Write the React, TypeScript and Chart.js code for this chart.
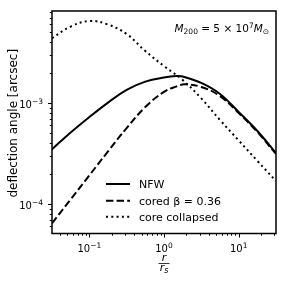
import React, { useEffect, useRef } from 'react';
import { Chart, registerables } from 'chart.js';
Chart.register(...registerables);

// ---- data ----
const rNFW = [0.0316, 0.0562, 0.1, 0.178, 0.316, 0.562, 1.0, 1.48, 1.78, 3.16, 5.62, 10, 17.8, 31.6];
const alphaNFW = [3.48e-4, 5.11e-4, 7.26e-4, 1.01e-3, 1.35e-3, 1.63e-3, 1.79e-3, 1.85e-3, 1.83e-3, 1.58e-3, 1.23e-3, 8.15e-4, 5.28e-4, 3.2e-4];

const rCored = [0.0316, 0.0562, 0.1, 0.178, 0.316, 0.562, 1.0, 1.48, 1.9, 3.16, 5.62, 10, 17.8, 31.6];
const alphaCored = [6.44e-5, 1.11e-4, 1.92e-4, 3.32e-4, 5.65e-4, 9.12e-4, 1.29e-3, 1.46e-3, 1.53e-3, 1.44e-3, 1.17e-3, 7.96e-4, 5.16e-4, 3.13e-4];

const rCollapsed = [0.0316, 0.0562, 0.1, 0.178, 0.316, 0.562, 1.0, 1.78, 3.16, 5.62, 10, 17.8, 31.6];
const alphaCollapsed = [4.38e-3, 5.71e-3, 6.49e-3, 5.98e-3, 4.82e-3, 3.27e-3, 2.32e-3, 1.69e-3, 1.11e-3, 6.79e-4, 4.26e-4, 2.67e-4, 1.69e-4];

const seriesLabels = ['NFW', 'cored β = 0.36', 'core collapsed'];

const xMin = Math.pow(10, -1.5);
const xMax = Math.pow(10, 1.5);
const yMin = Math.pow(10, -4.292);
const yMax = Math.pow(10, -2.089);

const xTickValues = [0.1, 1, 10];
const xTickExps = ['−1', '0', '1'];
const yTickValues = [1e-4, 1e-3];
const yTickExps = ['−4', '−3'];

const yAxisLabel = 'deflection angle [arcsec]';

const FONT = '"DejaVu Sans"';

type Part = { text: string; size: number; dy: number; italic?: boolean };

function measureParts(ctx: CanvasRenderingContext2D, parts: Part[]) {
  let w = 0;
  for (const p of parts) {
    ctx.font = `${p.italic ? 'italic ' : ''}${p.size}px ${FONT}`;
    w += ctx.measureText(p.text).width;
  }
  return w;
}

function drawParts(ctx: CanvasRenderingContext2D, parts: Part[], x: number, baseline: number, align: 'left' | 'center' | 'right') {
  const w = measureParts(ctx, parts);
  let cx = align === 'left' ? x : align === 'center' ? x - w / 2 : x - w;
  ctx.textAlign = 'left';
  ctx.textBaseline = 'alphabetic';
  for (const p of parts) {
    ctx.font = `${p.italic ? 'italic ' : ''}${p.size}px ${FONT}`;
    ctx.fillText(p.text, cx, baseline + p.dy);
    cx += ctx.measureText(p.text).width;
  }
}

const decorPlugin = {
  id: 'decor',
  afterDraw(chart: any) {
    const ctx: CanvasRenderingContext2D = chart.ctx;
    const xs = chart.scales.x;
    const ys = chart.scales.y;
    const { left, right, top, bottom } = chart.chartArea;
    ctx.save();
    ctx.fillStyle = '#000';
    ctx.strokeStyle = '#000';

    // frame
    ctx.lineWidth = 1.5;
    ctx.strokeRect(left, top, right - left, bottom - top);

    // ticks
    ctx.lineWidth = 1;
    for (let d = -3; d <= 2; d++) {
      for (let m = 1; m <= 9; m++) {
        const v = m * Math.pow(10, d);
        if (v < xMin || v > xMax) continue;
        const px = Math.round(xs.getPixelForValue(v)) + 0.5;
        const len = m === 1 ? 4 : 2.2;
        ctx.beginPath();
        ctx.moveTo(px, bottom);
        ctx.lineTo(px, bottom + len);
        ctx.stroke();
      }
    }
    for (let d = -6; d <= -1; d++) {
      for (let m = 1; m <= 9; m++) {
        const v = m * Math.pow(10, d);
        if (v < yMin || v > yMax) continue;
        const py = Math.round(ys.getPixelForValue(v)) + 0.5;
        const len = m === 1 ? 4 : 2.2;
        ctx.beginPath();
        ctx.moveTo(left, py);
        ctx.lineTo(left - len, py);
        ctx.stroke();
      }
    }

    // tick labels
    xTickValues.forEach((v, i) => {
      const px = xs.getPixelForValue(v);
      drawParts(ctx, [
        { text: '10', size: 10, dy: 0 },
        { text: xTickExps[i], size: 7.5, dy: -4 },
      ], px, 251.5, 'center');
    });
    yTickValues.forEach((v, i) => {
      const py = ys.getPixelForValue(v);
      drawParts(ctx, [
        { text: '10', size: 10, dy: 0 },
        { text: yTickExps[i], size: 7.5, dy: -4 },
      ], 43, py + 5, 'right');
    });

    // x label: r / r_s
    const cx = (left + right) / 2;
    drawParts(ctx, [{ text: 'r', size: 11, dy: 0, italic: true }], cx, 261, 'center');
    ctx.lineWidth = 0.8;
    ctx.beginPath();
    ctx.moveTo(cx - 5.5, 263.5);
    ctx.lineTo(cx + 5.5, 263.5);
    ctx.stroke();
    drawParts(ctx, [
      { text: 'r', size: 11, dy: 0, italic: true },
      { text: 's', size: 8, dy: 2, italic: true },
    ], cx, 271, 'center');

    // y label
    ctx.save();
    ctx.translate(16.5, (top + bottom) / 2 + 1);
    ctx.rotate(-Math.PI / 2);
    ctx.font = `12px ${FONT}`;
    ctx.textAlign = 'center';
    ctx.textBaseline = 'alphabetic';
    ctx.fillText(yAxisLabel, 0, 0);
    ctx.restore();

    // annotation
    drawParts(ctx, [
      { text: 'M', size: 10.5, dy: 0, italic: true },
      { text: '200', size: 7.5, dy: 2 },
      { text: ' = 5 × 10', size: 10.5, dy: 0 },
      { text: '7', size: 7.5, dy: -4 },
      { text: 'M', size: 10.5, dy: 0, italic: true },
      { text: '⊙', size: 7.5, dy: 2 },
    ], right - 7, 31.5, 'right');

    // legend
    const rows = [184, 200.7, 216.7];
    const dashes = [[], [7.4, 3.2], [2, 3.3]];
    rows.forEach((ry, i) => {
      ctx.lineWidth = 2;
      ctx.setLineDash(dashes[i]);
      ctx.beginPath();
      ctx.moveTo(106, ry);
      ctx.lineTo(130, ry);
      ctx.stroke();
      ctx.setLineDash([]);
      ctx.font = `11px ${FONT}`;
      ctx.textAlign = 'left';
      ctx.textBaseline = 'alphabetic';
      ctx.fillText(seriesLabels[i], 139, ry + 4);
    });

    ctx.restore();
  },
};

export default function App() {
  const ref = useRef<HTMLCanvasElement | null>(null);
  useEffect(() => {
    if (!ref.current) return;
    const mk = (xs: number[], ys: number[]) => xs.map((x, i) => ({ x, y: ys[i] }));
    const chart = new Chart(ref.current, {
      type: 'line',
      data: {
        datasets: [
          { label: seriesLabels[0], data: mk(rNFW, alphaNFW), borderColor: '#000', borderWidth: 2, pointRadius: 0, tension: 0.4, fill: false },
          { label: seriesLabels[1], data: mk(rCored, alphaCored), borderColor: '#000', borderWidth: 2, borderDash: [7.4, 3.2], pointRadius: 0, tension: 0.4, fill: false },
          { label: seriesLabels[2], data: mk(rCollapsed, alphaCollapsed), borderColor: '#000', borderWidth: 2, borderDash: [2, 3.3], pointRadius: 0, tension: 0.4, fill: false },
        ],
      },
      options: {
        animation: false,
        responsive: false,
        devicePixelRatio: 1,
        parsing: false as any,
        layout: { padding: { left: 52, top: 11, right: 11, bottom: 53.5 } },
        plugins: { legend: { display: false }, tooltip: { enabled: false } },
        scales: {
          x: { type: 'logarithmic', min: xMin, max: xMax, display: false },
          y: { type: 'logarithmic', min: yMin, max: yMax, display: false },
        },
      },
      plugins: [decorPlugin],
    });
    return () => chart.destroy();
  }, []);
  return (
    <div style={{ position: 'fixed', left: 0, top: 0, width: 287, height: 287, background: '#fff' }}>
      <canvas ref={ref} width={287} height={287} style={{ display: 'block' }} />
    </div>
  );
}
